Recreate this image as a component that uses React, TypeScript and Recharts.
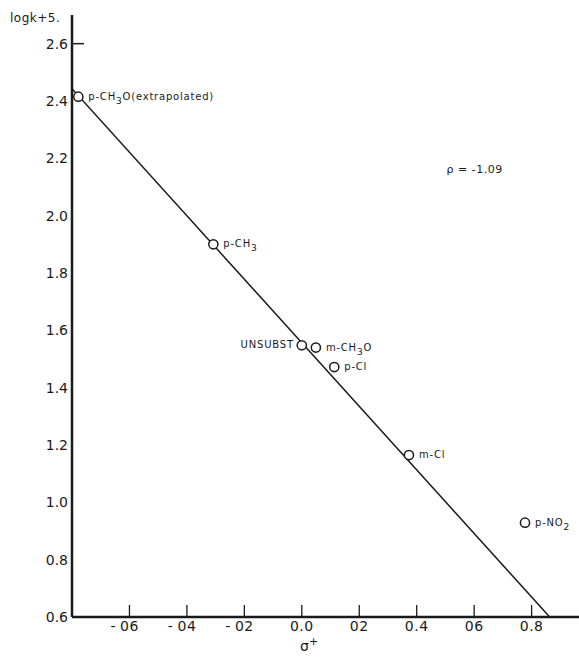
import React from "react";
import { ScatterChart, Scatter, XAxis, YAxis, ReferenceDot } from "recharts";

const substituents = ["p-CH3O(extrapolated)", "p-CH3", "UNSUBST", "m-CH3O", "p-Cl", "m-Cl", "p-NO2"];
const sigmaPlus = [-0.778, -0.308, 0.0, 0.049, 0.113, 0.373, 0.777];
const logK5 = [2.415, 1.9, 1.548, 1.54, 1.472, 1.165, 0.929];

const fitSigma = [-0.8, 0.863];
const fitLogK = [2.443, 0.6];

const xTicks = [-0.6, -0.4, -0.2, 0.0, 0.2, 0.4, 0.6, 0.8];
const xTickLabels = ["-06", "-04", "-02", "0.0", "02", "0.4", "06", "0.8"];
const yTicks = [0.6, 0.8, 1.0, 1.2, 1.4, 1.6, 1.8, 2.0, 2.2, 2.4, 2.6];
const yTickLabels = ["0.6", "0.8", "1.0", "1.2", "1.4", "1.6", "1.8", "2.0", "2.2", "2.4", "2.6"];

const rhoText = "ρ = -1.09";
const rhoAt = { x: 0.504, y: 2.164 };

const points = substituents.map((name, i) => ({ x: sigmaPlus[i], y: logK5[i], name }));
const fitLine = fitSigma.map((s, i) => ({ x: s, y: fitLogK[i] }));

const FONT = "'DejaVu Sans', sans-serif";
const INK = "#1a1a1a";

function renderLabel(name: string) {
  // digits following a capital letter are drawn as subscripts
  const segs: { text: string; sub: boolean }[] = [];
  const chars = name.split("");
  for (let i = 0; i < chars.length; i++) {
    const c = chars[i];
    const prev = chars[i - 1];
    const sub = /[0-9]/.test(c) && !!prev && /[A-Z]/.test(prev);
    const last = segs[segs.length - 1];
    if (last && last.sub === sub) last.text += c;
    else segs.push({ text: c, sub });
  }
  let lowered = false;
  return segs.map((s, k) => {
    let dy = 0;
    if (s.sub && !lowered) {
      dy = 4;
      lowered = true;
    } else if (!s.sub && lowered) {
      dy = -4;
      lowered = false;
    }
    return (
      <tspan key={k} dy={dy} fontSize={s.sub ? 9 : 10}>
        {s.text}
      </tspan>
    );
  });
}

const PointShape = (props: any) => {
  const { cx, cy, payload } = props;
  const left = payload.name === "UNSUBST";
  return (
    <g>
      <circle cx={cx} cy={cy} r={4.6} fill="#fff" stroke={INK} strokeWidth={1.5} />
      <text
        x={left ? cx - 8 : cx + 10}
        y={cy + 3}
        textAnchor={left ? "end" : "start"}
        fontFamily={FONT}
        fontSize={10}
        letterSpacing={0.8}
        fill={INK}
      >
        {renderLabel(payload.name)}
      </text>
    </g>
  );
};

const XTick = (props: any) => {
  const { x, y, payload, index } = props;
  const label = xTickLabels[index] ?? String(payload.value);
  const neg = label.startsWith("-");
  const digits = neg ? label.slice(1) : label;
  return (
    <g>
      <line x1={x} y1={y} x2={x} y2={y - 12} stroke={INK} strokeWidth={1.3} />
      <text x={x} y={y + 14} textAnchor="middle" fontFamily={FONT} fontSize={14} fill={INK} letterSpacing={0.5}>
        {digits}
      </text>
      {neg && (
        <text x={x - 14} y={y + 14} textAnchor="end" fontFamily={FONT} fontSize={14} fill={INK}>
          -
        </text>
      )}
    </g>
  );
};

const YTick = (props: any) => {
  const { x, y, payload, index } = props;
  const label = yTickLabels[index] ?? String(payload.value);
  return (
    <g>
      {payload.value === 2.6 && <line x1={x} y1={y} x2={x + 12} y2={y} stroke={INK} strokeWidth={1.5} />}
      <text x={x - 4} y={y + 5} textAnchor="end" fontFamily={FONT} fontSize={14} fill={INK}>
        {label}
      </text>
    </g>
  );
};

const YLabel = (props: any) => {
  const vb = props.viewBox || { x: 0, y: 15 };
  return (
    <text x={vb.x + 10} y={vb.y + 7} fontFamily={FONT} fontSize={12} fill={INK} letterSpacing={0.5}>
      logk+5.
    </text>
  );
};

const XLabel = (props: any) => {
  const vb = props.viewBox || { x: 72, y: 617 };
  return (
    <text x={300} y={vb.y + 34} fontFamily={FONT} fontSize={14} fill={INK}>
      σ<tspan dy={-6} fontSize={11}>+</tspan>
    </text>
  );
};

const RhoLabel = (props: any) => {
  const vb = props.viewBox || { x: 0, y: 0 };
  return (
    <text x={vb.x} y={vb.y + 4} fontFamily={FONT} fontSize={11} fill={INK} letterSpacing={0.5}>
      {rhoText}
    </text>
  );
};

export default function App() {
  return (
    <div style={{ position: "absolute", left: 0, top: 0, background: "#fff" }}>
      <ScatterChart width={579} height={657} margin={{ top: 15, right: 0, bottom: 0, left: 0 }}>
        <XAxis
          type="number"
          dataKey="x"
          domain={[-0.8, 0.965]}
          ticks={xTicks}
          allowDataOverflow
          height={40}
          tickSize={0}
          tickMargin={0}
          tickLine={false}
          axisLine={{ stroke: INK, strokeWidth: 2.5 }}
          tick={<XTick />}
          interval={0}
          label={<XLabel />}
        />
        <YAxis
          type="number"
          dataKey="y"
          domain={[0.6, 2.7]}
          ticks={yTicks}
          allowDataOverflow
          width={72}
          tickSize={0}
          tickMargin={0}
          tickLine={false}
          axisLine={{ stroke: INK, strokeWidth: 2.5 }}
          tick={<YTick />}
          interval={0}
          label={<YLabel />}
        />
        <Scatter
          data={fitLine}
          line={{ stroke: INK, strokeWidth: 1.5 }}
          shape={() => <g />}
          isAnimationActive={false}
          legendType="none"
        />
        <Scatter data={points} shape={<PointShape />} isAnimationActive={false} />
        <ReferenceDot x={rhoAt.x} y={rhoAt.y} r={0} stroke="none" fill="none" label={<RhoLabel />} />
      </ScatterChart>
    </div>
  );
}
